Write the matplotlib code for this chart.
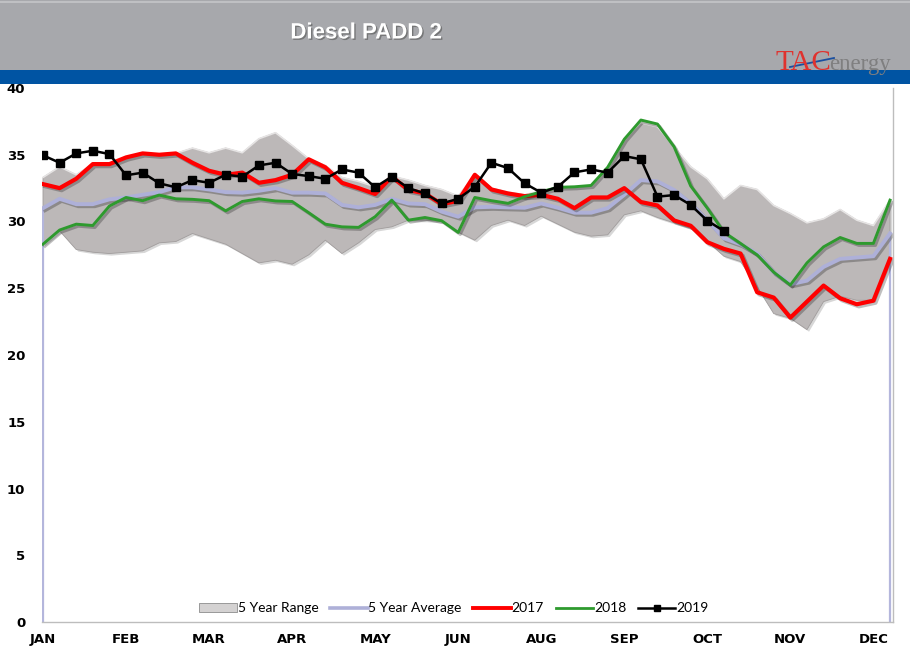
import numpy as np
import matplotlib.pyplot as plt
import matplotlib.patheffects as pe
from matplotlib.patches import Rectangle
from matplotlib.lines import Line2D

# Weekly values (52 weeks)
months = ['JAN', 'FEB', 'MAR', 'APR', 'MAY', 'JUN', 'AUG', 'SEP', 'OCT', 'NOV', 'DEC']

range_high = [33.3, 34.1, 33.5, 34.3, 34.3, 34.8, 35.1, 35.0, 35.1, 35.5,
              35.15, 35.5, 35.15, 36.2, 36.65, 35.7, 34.7, 34.2, 33.3, 33.0,
              32.6, 33.4, 33.1, 32.7, 32.4, 31.9, 33.5, 32.5, 32.2, 32.0,
              32.3, 32.6, 32.6, 32.7, 34.1, 36.2, 37.4, 37.1, 35.6, 34.1,
              33.2, 31.7, 32.7, 32.4, 31.2, 30.6, 29.9, 30.2, 30.9, 30.1,
              29.7, 31.6]
range_low = [28.3, 29.3, 27.9, 27.7, 27.6, 27.7, 27.8, 28.4, 28.5, 29.1,
             28.7, 28.3, 27.6, 26.9, 27.1, 26.8, 27.5, 28.6, 27.6, 28.4,
             29.4, 29.6, 30.1, 30.1, 30.0, 29.2, 28.6, 29.7, 30.1, 29.7,
             30.4, 29.8, 29.2, 28.9, 29.0, 30.5, 30.8, 30.3, 29.9, 29.5,
             28.5, 27.4, 27.0, 25.1, 23.1, 22.75, 21.9, 24.0, 24.4, 24.1,
             24.1, 27.2]
avg_5yr = [31.0, 31.7, 31.3, 31.3, 31.66, 31.8, 32.0, 32.2, 32.56, 32.56,
           32.4, 32.2, 32.16, 32.3, 32.5, 32.16, 32.16, 32.1, 31.24, 31.06,
           31.24, 31.7, 31.35, 31.3, 30.74, 30.36, 31.06, 31.1, 31.06, 31.03,
           31.35, 31.03, 30.66, 30.66, 31.0, 32.0, 33.1, 33.0, 32.36, 31.36,
           30.1, 28.74, 28.3, 27.6, 26.2, 25.3, 25.57, 26.6, 27.2, 27.3,
           27.4, 29.1]
y2017 = [32.8, 32.5, 33.2, 34.3, 34.3, 34.8, 35.1, 35.0, 35.1, 34.4,
         33.8, 33.5, 33.66, 32.9, 33.1, 33.5, 34.66, 34.06, 32.9, 32.5,
         32.06, 33.36, 32.36, 32.1, 31.3, 31.55, 33.5, 32.4, 32.1, 31.9,
         32.0, 31.7, 31.0, 31.8, 31.8, 32.5, 31.46, 31.2, 30.08, 29.68,
         28.45, 27.95, 27.6, 24.7, 24.3, 22.8, 24.0, 25.2, 24.25, 23.8,
         24.07, 27.2]
y2018 = [28.3, 29.36, 29.8, 29.7, 31.16, 31.8, 31.56, 31.98, 31.7, 31.66,
         31.56, 30.8, 31.5, 31.7, 31.54, 31.5, 30.66, 29.8, 29.6, 29.56,
         30.36, 31.6, 30.1, 30.3, 30.06, 29.18, 31.8, 31.56, 31.36, 31.86,
         32.23, 32.56, 32.6, 32.7, 34.06, 36.16, 37.6, 37.3, 35.6, 32.66,
         31.0, 29.2, 28.36, 27.5, 26.2, 25.24, 26.9, 28.1, 28.8, 28.36,
         28.36, 31.6]
y2019 = [34.96, 34.4, 35.1, 35.3, 35.05, 33.46, 33.66, 32.86, 32.56, 33.1,
         32.9, 33.5, 33.36, 34.2, 34.4, 33.56, 33.4, 33.2, 33.9, 33.66,
         32.56, 33.36, 32.5, 32.1, 31.35, 31.7, 32.6, 34.4, 34.0, 32.86,
         32.16, 32.6, 33.68, 33.9, 33.66, 34.9, 34.66, 31.86, 31.98, 31.24,
         30.06, 29.29]

weeks = np.arange(len(range_high))
fig = plt.figure(figsize=(9.1, 6.61), dpi=100)

# Header bands
fig.patches.append(Rectangle((0, 1 - 70 / 661), 1, 70 / 661, transform=fig.transFigure,
                             facecolor='#a7a8ac', edgecolor='none', zorder=0))
fig.patches.append(Rectangle((0, 1 - 84 / 661), 1, 14 / 661, transform=fig.transFigure,
                             facecolor='#0054a3', edgecolor='none', zorder=0))
fig.lines.append(Line2D([0, 1], [1 - 2 / 661, 1 - 2 / 661], transform=fig.transFigure,
                        color='#c4c5c8', lw=1.2))
fig.text(366 / 910, 1 - 33 / 661, 'Diesel PADD 2', color='white', fontsize=16,
         fontweight='bold', family='Liberation Sans', ha='center', va='center',
         path_effects=[pe.withSimplePatchShadow(offset=(1, -1), shadow_rgbFace='#555555', alpha=0.6)])

# Logo
fig.text(775 / 910, 1 - 70 / 661, 'TAC', color='#e0322e', fontsize=21,
         family='Liberation Serif', ha='left', va='baseline')
fig.text(829 / 910, 1 - 70 / 661, 'energy', color='#7f7f80', fontsize=16.5,
         family='Liberation Serif', ha='left', va='baseline')
fig.lines.append(Line2D([790 / 910, 834 / 910], [1 - 67 / 661, 1 - 58 / 661],
                        transform=fig.transFigure, color='#1a4fa0', lw=1.3))

ax = fig.add_axes([42 / 910, 39 / 661, 851 / 910, 534 / 661])

shadow = [pe.SimpleLineShadow(offset=(1.5, -1.5), alpha=0.25), pe.Normal()]

ax.fill_between(weeks, range_low, range_high, color='#bcb8b8', edgecolor='#a09c9c',
                linewidth=0.6, zorder=1,
                path_effects=[pe.withSimplePatchShadow(offset=(1.5, -1.5), alpha=0.2)])
ax.plot(weeks, range_high, color='#e6e4e4', lw=1.2, zorder=1.5)

# average series drops to zero at both ends
ax.plot([weeks[0], weeks[0]], [0, avg_5yr[0]], color='#b4b6dc', lw=1.6, zorder=2)
ax.plot([weeks[-1], weeks[-1]], [0, avg_5yr[-1]], color='#b4b6dc', lw=1.6, zorder=2)
ax.plot(weeks, avg_5yr, color='#aeb0d8', lw=2.8, zorder=2, path_effects=shadow)
ax.plot(weeks, y2017, color='#ff0000', lw=3.0, zorder=3, path_effects=shadow)
ax.plot(weeks, y2018, color='#2e9a2e', lw=2.1, zorder=4, path_effects=shadow)
ax.plot(np.arange(len(y2019)), y2019, color='black', lw=1.8, marker='s', markersize=6,
        zorder=5)

ax.set_xlim(-0.06, 51.18)
ax.set_ylim(0, 40)
ax.set_yticks(np.arange(0, 41, 5))
ax.set_xticks(np.arange(0, 51, 5))
ax.set_xticklabels(months)
for lab in ax.get_xticklabels() + ax.get_yticklabels():
    lab.set_fontweight('bold')
    lab.set_family('Liberation Sans Narrow')
    lab.set_fontsize(9.5)
ax.tick_params(axis='both', length=0)
ax.tick_params(axis='y', pad=12)
ax.tick_params(axis='x', pad=8)
for side in ['top', 'left']:
    ax.spines[side].set_visible(False)
for side in ['bottom', 'right']:
    ax.spines[side].set_color('#bdbdbd')
    ax.spines[side].set_linewidth(1.0)

handles = [Rectangle((0, 0), 1, 1, facecolor='#d4d2d2', edgecolor='#8c8c8c', lw=0.6),
           Line2D([], [], color='#aeb0d8', lw=2.6),
           Line2D([], [], color='#ff0000', lw=2.8),
           Line2D([], [], color='#2e9a2e', lw=2.0),
           Line2D([], [], color='black', lw=1.8, marker='s', markersize=5)]
labels = ['5 Year Range', '5 Year Average', '2017', '2018', '2019']
ax.legend(handles, labels, loc='lower center', bbox_to_anchor=(0.484, -0.009), ncol=5,
          frameon=False, prop={'family': 'Lato', 'size': 10.0}, handlelength=2.7,
          handletextpad=0.05, columnspacing=0.85, handleheight=0.6)

fig.savefig('out.png', dpi=100)
